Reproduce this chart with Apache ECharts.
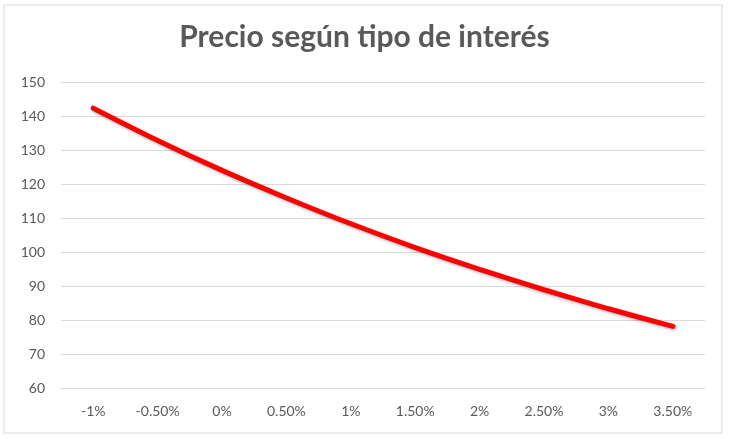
<!DOCTYPE html>
<html>
<head>
<meta charset="utf-8">
<script src="https://cdn.jsdelivr.net/npm/echarts@6/dist/echarts.min.js"></script>
<style>
html, body { margin: 0; padding: 0; background: #fff; }
#chart { width: 729px; height: 439px; }
</style>
</head>
<body>
<div id="chart"></div>
<script>
// tipos de interés (eje x)
var tipos = ['-1%', '-0.50%', '0%', '0.50%', '1%', '1.50%', '2%', '2.50%', '3%', '3.50%'];
// precio
var precios = [142.3, 132.8, 124.0, 115.9, 108.3, 101.3, 94.9, 88.9, 83.3, 78.1];
// escala del eje y
var yMin = 60;
var yMax = 150;
var yPaso = 10;

var myChart = echarts.init(document.getElementById('chart'));

var option = {
	backgroundColor: '#fff',
	animation: false,
	title: {
		text: 'Precio según tipo de interés',
		left: 'center',
		top: 17,
		textStyle: {
			color: '#595959',
			fontFamily: 'Lato',
			fontSize: 30,
			fontWeight: 'bold'
		}
	},
	graphic: [{
		type: 'rect',
		shape: { x: 4, y: 5, width: 718, height: 428 },
		style: { fill: 'none', stroke: '#d9d9d9', lineWidth: 1 },
		silent: true
	}],
	grid: {
		left: 61,
		right: 24,
		top: 82,
		bottom: 51
	},
	xAxis: {
		type: 'category',
		data: tipos,
		boundaryGap: true,
		axisLine: { show: true, lineStyle: { color: '#d9d9d9', width: 1 } },
		axisTick: { show: false },
		axisLabel: {
			color: '#595959',
			fontFamily: 'Lato',
			fontSize: 14,
			margin: 16
		}
	},
	yAxis: {
		type: 'value',
		min: yMin,
		max: yMax,
		interval: yPaso,
		axisLine: { show: false },
		axisTick: { show: false },
		splitLine: { lineStyle: { color: '#d9d9d9', width: 1 } },
		axisLabel: {
			color: '#595959',
			fontFamily: 'Lato',
			fontSize: 14,
			margin: 16
		}
	},
	series: [{
		name: 'Precio',
		type: 'line',
		data: precios,
		smooth: 0.3,
		symbol: 'none',
		lineStyle: {
			color: '#ff0000',
			width: 5,
			cap: 'round',
			shadowColor: 'rgba(0,0,0,0.3)',
			shadowBlur: 3,
			shadowOffsetX: 1,
			shadowOffsetY: 1.5
		}
	}]
};

myChart.setOption(option);
window.onresize = myChart.resize;
</script>
</body>
</html>
